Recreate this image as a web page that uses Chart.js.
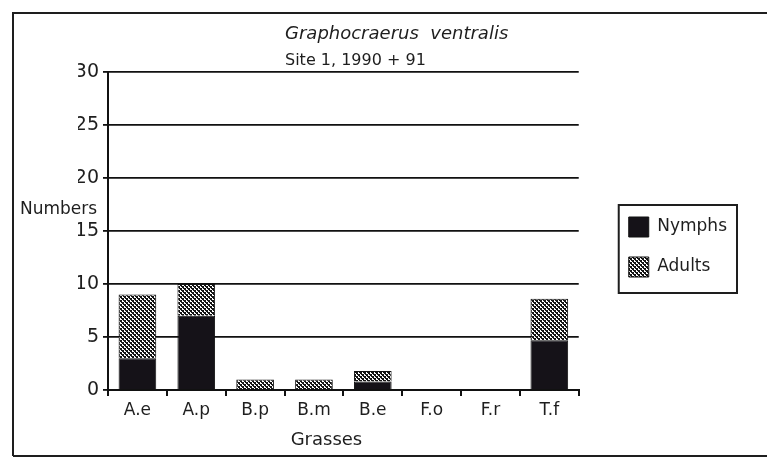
<!DOCTYPE html>
<html lang="en">
<head>
<meta charset="UTF-8" />
<title>Graphocraerus ventralis</title>
<script src="https://cdn.jsdelivr.net/npm/chart.js"></script>
<style>
  html, body { margin: 0; padding: 0; background: #fff; }
  .chart-box { width: 767px; height: 467px; }
</style>
</head>
<body>
<div class="chart-box"><canvas id="grassChart"></canvas></div>
<script>
const grasses = ["A.e", "A.p", "B.p", "B.m", "B.e", "F.o", "F.r", "T.f"];
const nymphs = [3, 7, 0, 0, 0.8, 0, 0, 4.7];
const adults = [6, 3, 1, 1, 1, 0, 0, 3.9];
const yTicks = [0, 5, 10, 15, 20, 25, 30];

const FONT = "'DejaVu Sans', Verdana, sans-serif";
const INK = "#1e1e1e";

// crosshatch fill for the Adults series
function makeHatch() {
  const tile = document.createElement("canvas");
  tile.width = 4;
  tile.height = 4;
  const t = tile.getContext("2d");
  t.fillStyle = "#fff";
  t.fillRect(0, 0, 4, 4);
  t.fillStyle = "#151515";
  t.fillRect(0, 0, 2, 2);
  t.fillRect(2, 2, 2, 2);
  t.fillRect(1, 2, 1, 1);
  t.fillRect(3, 0, 1, 1);
  return t.createPattern(tile, "repeat");
}
const hatch = makeHatch();

// frame, titles, axis titles and the box round the legend
const sheetText = {
  id: "sheetText",
  afterLayout(chart) {
    // leave a gap between the plot and the legend
    chart.legend.left += 30;
    chart.legend.right += 30;
  },
  afterDraw(chart) {
    const c = chart.ctx;
    const area = chart.chartArea;
    c.save();
    c.strokeStyle = INK;
    c.lineWidth = 2;
    c.beginPath();
    c.moveTo(13, 456);
    c.lineTo(13, 13);
    c.lineTo(767, 13);
    c.moveTo(13, 456);
    c.lineTo(767, 456);
    c.stroke();

    c.fillStyle = INK;
    c.textBaseline = "middle";
    c.textAlign = "left";
    c.font = "oblique 18px " + FONT;
    c.fillText("Graphocraerus  ventralis", 285, 34);
    c.font = "16px " + FONT;
    c.fillText("Site 1, 1990 + 91", 285, 61);

    c.font = "17px " + FONT;
    c.fillText("Numbers", 20, chart.scales.y.getPixelForValue(17));
    c.textAlign = "center";
    c.font = "18px " + FONT;
    c.fillText("Grasses", area.left + (area.right - area.left) * 0.464, 440);

    const boxes = chart.legend.legendHitBoxes;
    if (boxes && boxes.length) {
      const first = boxes[0];
      const last = boxes[boxes.length - 1];
      const right = Math.max(...boxes.map(b => b.left + b.width));
      c.lineWidth = 2;
      c.strokeRect(first.left - 10, first.top - 12, right - first.left + 20, last.top + last.height - first.top + 28);
    }
    c.restore();
  }
};

new Chart(document.getElementById("grassChart"), {
  type: "bar",
  plugins: [sheetText],
  data: {
    labels: grasses,
    datasets: [
      {
        label: "Nymphs",
        data: nymphs,
        backgroundColor: "#151218",
        borderColor: "#111",
        borderWidth: 1
      },
      {
        label: "Adults",
        data: adults,
        backgroundColor: hatch,
        borderColor: "#111",
        borderWidth: 1
      }
    ]
  },
  options: {
    responsive: true,
    maintainAspectRatio: false,
    animation: false,
    layout: { padding: { left: 78, right: 60, top: 72, bottom: 45 } },
    datasets: { bar: { categoryPercentage: 1, barPercentage: 0.64 } },
    plugins: {
      title: { display: false },
      tooltip: { enabled: false },
      legend: {
        position: "right",
        labels: {
          boxWidth: 20,
          boxHeight: 20,
          padding: 20,
          color: INK,
          font: { family: FONT, size: 17 }
        }
      }
    },
    scales: {
      x: {
        stacked: true,
        afterFit: s => { s.height = 32; },
        border: { color: "#111", width: 2 },
        grid: { offset: true, drawOnChartArea: false, color: "#111", lineWidth: 2, tickLength: 6 },
        ticks: { color: INK, padding: 4, font: { family: FONT, size: 17 } }
      },
      y: {
        stacked: true,
        min: 0,
        max: 30,
        afterFit: s => { s.width = 30; },
        afterBuildTicks: s => { s.ticks = yTicks.map(v => ({ value: v })); },
        border: { color: "#111", width: 2 },
        grid: { color: "#111", lineWidth: 1.8, tickLength: 5 },
        ticks: { color: INK, padding: 4, font: { family: FONT, size: 19 } }
      }
    }
  }
});
</script>
</body>
</html>
